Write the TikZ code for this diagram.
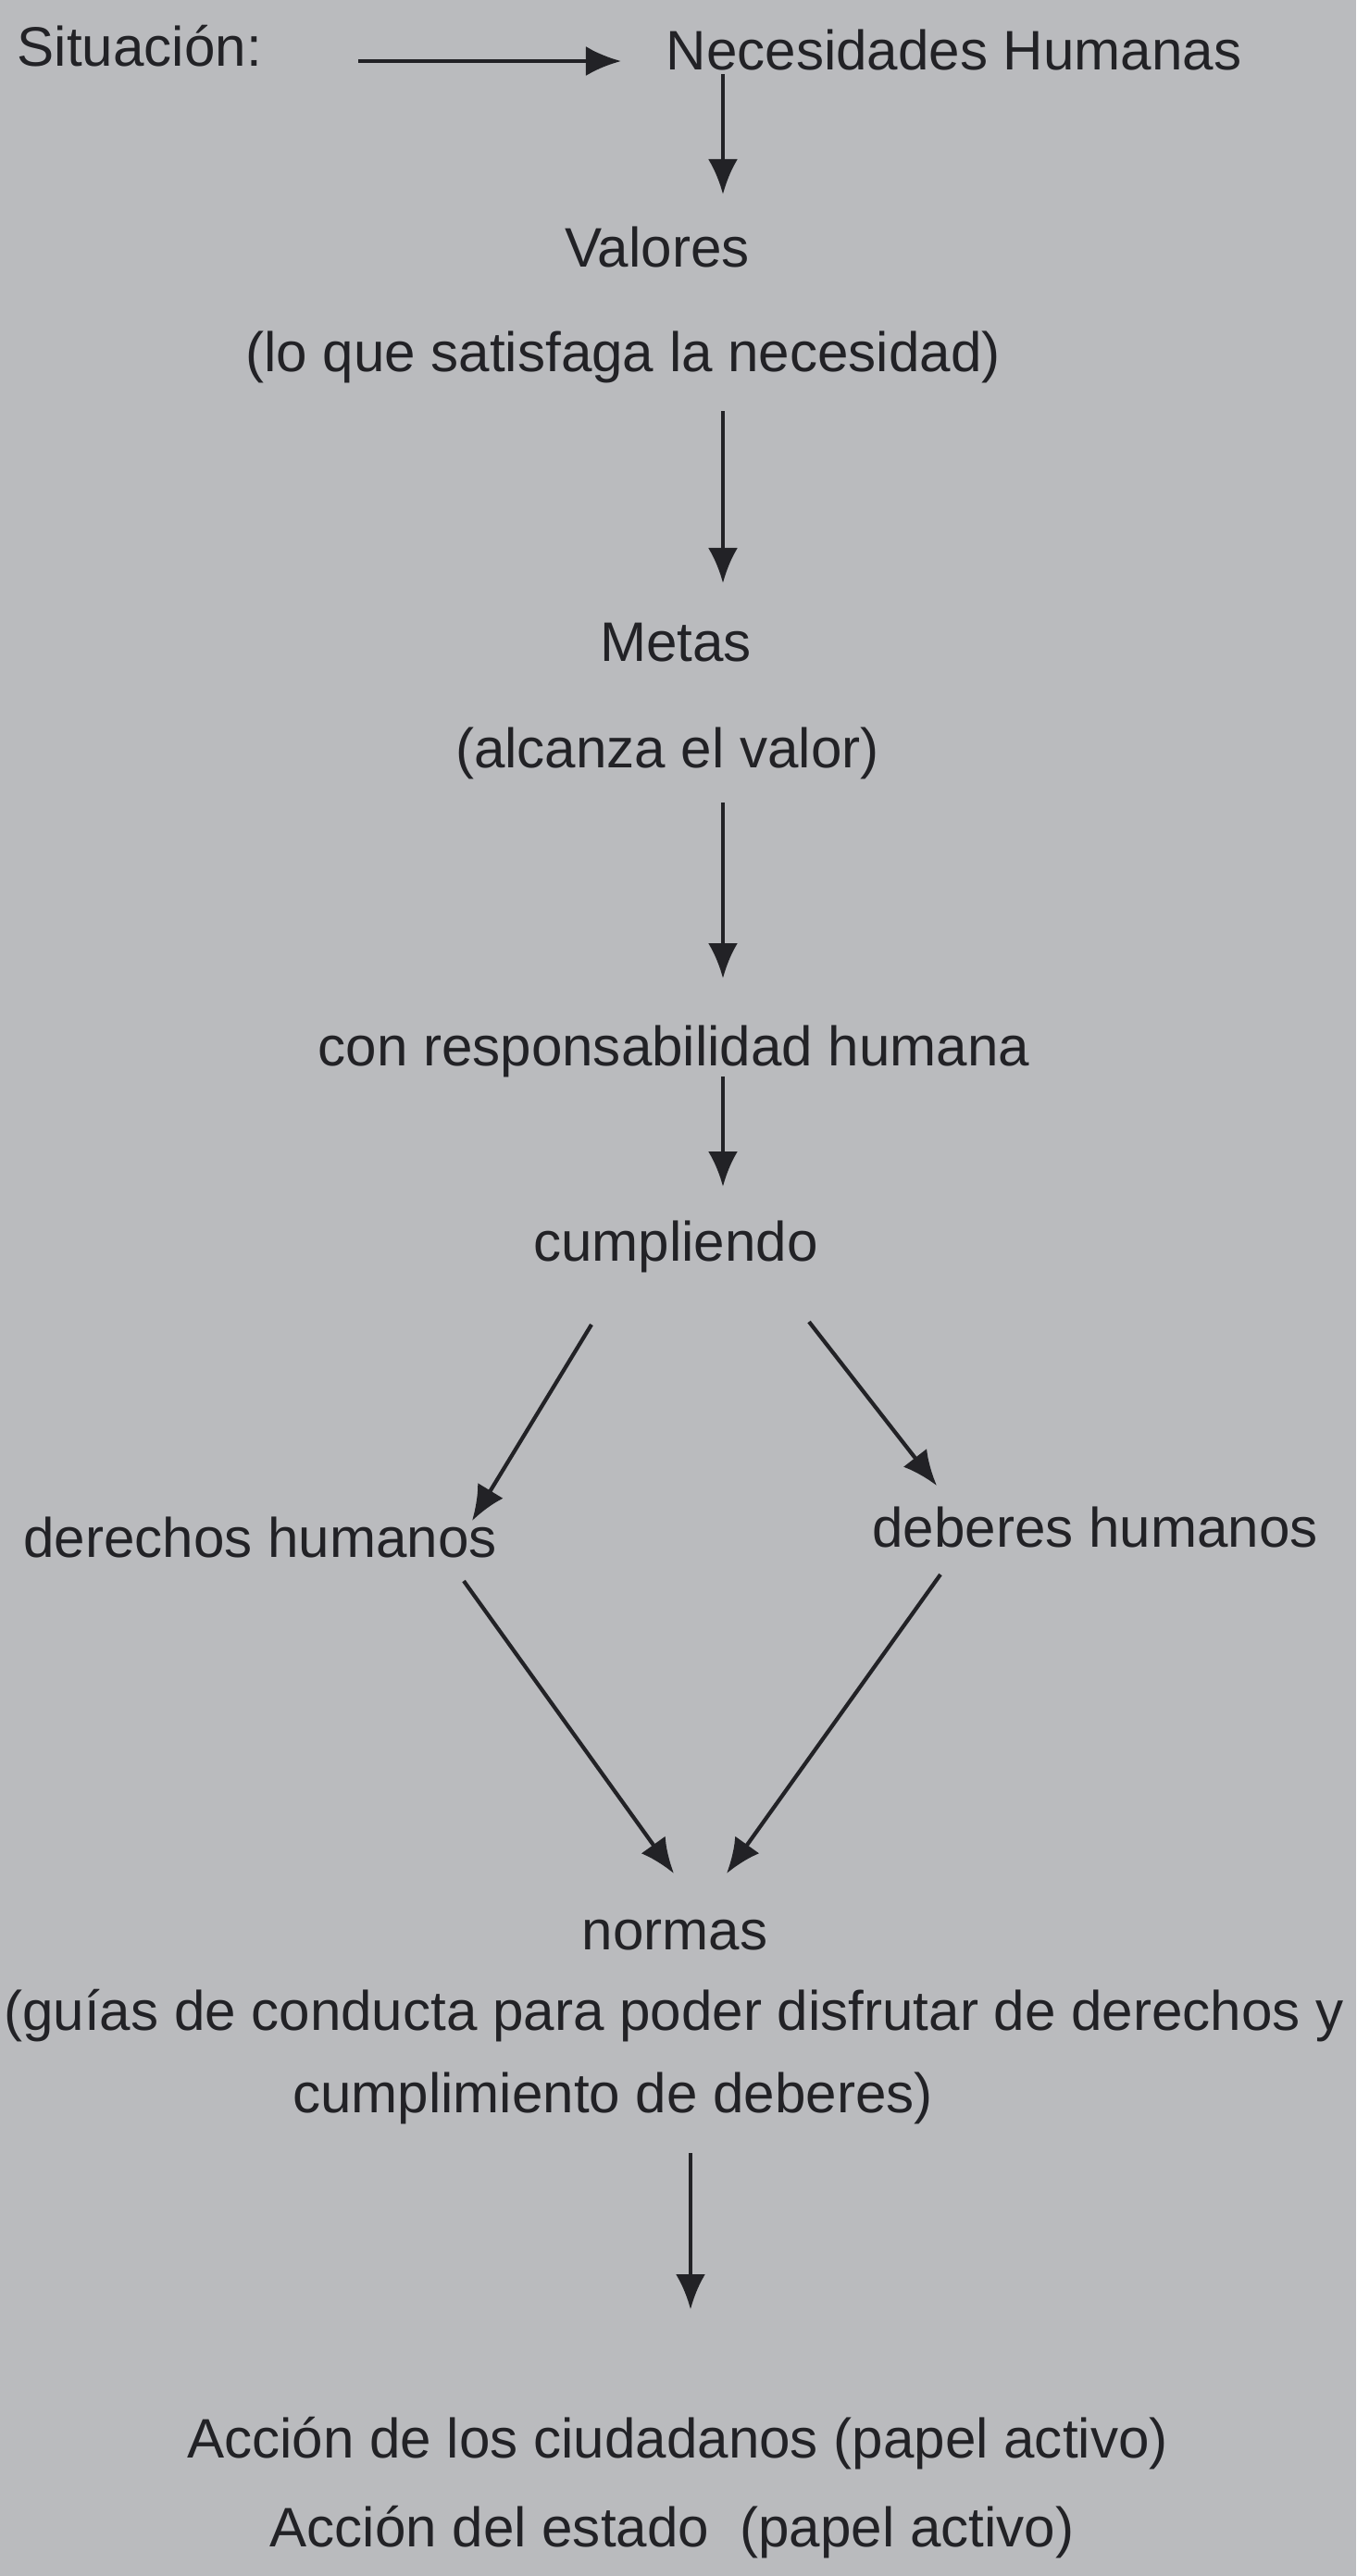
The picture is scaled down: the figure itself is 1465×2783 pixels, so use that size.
\documentclass[tikz,border=0pt]{standalone}
\usepackage{fontspec}
\setmainfont{Liberation Sans}
\usetikzlibrary{arrows.meta}
\definecolor{paper}{RGB}{186,187,190}
\definecolor{ink}{RGB}{34,34,38}

\tikzset{
  txt/.style={inner sep=0pt, anchor=base, text=ink, font=\fontsize{17.1}{21}\selectfont},
  arr/.style={draw=ink, line width=1.2pt, -{Latex[length=0.38cm,width=0.32cm]}}
}

\begin{document}
\begin{tikzpicture}[x=0.01cm, y=-0.01cm]
\fill[paper] (0,0) rectangle (1465,2783);
\useasboundingbox (0,0) rectangle (1465,2783);
% texts
\node[txt, anchor=base west] (sit) at (18,71) {Situación:};
\node[txt, anchor=base west] (nec) at (719,75) {Necesidades Humanas};
\node[txt] (val) at (710,288) {Valores};
\node[txt] (valnote) at (673,401) {(lo que satisfaga la necesidad)};
\node[txt] (metas) at (730,714) {Metas};
\node[txt] (metanote) at (721,829) {(alcanza el valor)};
\node[txt] (resp) at (728,1151) {con responsabilidad humana};
\node[txt] (cump) at (730,1362) {cumpliendo};
\node[txt] (der) at (281,1682) {derechos humanos};
\node[txt] (deb) at (1183,1671) {deberes humanos};
\node[txt] (norm) at (729,2106) {normas};
\node[txt] (normnote) at (728,2193) {(guías de conducta para poder disfrutar de derechos y};
\node[txt] (normnoteb) at (662,2282) {cumplimiento de deberes)};
\node[txt] (accciu) at (732,2655) {Acción de los ciudadanos (papel activo)};
\node[txt] (accest) at (726,2751) {Acción del estado\ \ (papel activo)};
% arrows
\draw[arr] ([shift={(369,-5)}]sit.base west) -- ([shift={(-48,-9)}]nec.base west);
\draw[arr] ([shift={(62,5)}]nec.base west) -- ([shift={(71,-78)}]val.base);
\draw[arr] ([shift={(108,43)}]valnote.base) -- ([shift={(51,-84)}]metas.base);
\draw[arr] ([shift={(60,38)}]metanote.base) -- ([shift={(53,-94)}]resp.base);
\draw[arr] ([shift={(53,12)}]resp.base) -- ([shift={(51,-80)}]cump.base);
\draw[arr] ([shift={(-91,69)}]cump.base) -- ([shift={(229,-39)}]der.base);
\draw[arr] ([shift={(144,66)}]cump.base) -- ([shift={(-171,-66)}]deb.base);
\draw[arr] ([shift={(220,26)}]der.base) -- ([shift={(-1,-82)}]norm.base);
\draw[arr] ([shift={(-167,30)}]deb.base) -- ([shift={(56,-82)}]norm.base);
\draw[arr] ([shift={(84,44)}]normnoteb.base) -- ([shift={(14,-160)}]accciu.base);
\end{tikzpicture}
\end{document}
